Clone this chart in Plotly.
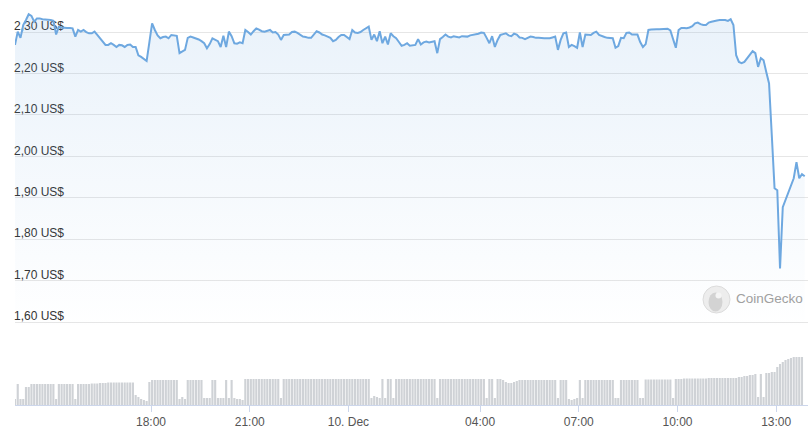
import plotly.graph_objects as go
import pandas as pd

START = "2024-12-09 13:52"

# price (US$) every 5 minutes
price_values = [
    2.269, 2.301, 2.286, 2.317, 2.329, 2.343, 2.339, 2.325, 2.333, 2.333, 2.331, 2.331,
    2.330, 2.329, 2.327, 2.294, 2.313, 2.311, 2.310, 2.310, 2.310, 2.309, 2.289, 2.305,
    2.301, 2.305, 2.300, 2.297, 2.297, 2.301, 2.293, 2.285, 2.278, 2.269, 2.269, 2.273,
    2.269, 2.264, 2.269, 2.268, 2.264, 2.269, 2.270, 2.264, 2.264, 2.244, 2.240, 2.236,
    2.230, 2.275, 2.321, 2.305, 2.292, 2.285, 2.288, 2.289, 2.285, 2.293, 2.292, 2.291,
    2.249, 2.254, 2.257, 2.286, 2.289, 2.287, 2.285, 2.282, 2.278, 2.273, 2.261, 2.271,
    2.285, 2.282, 2.278, 2.264, 2.291, 2.264, 2.301, 2.290, 2.273, 2.272, 2.275, 2.273,
    2.305, 2.300, 2.294, 2.302, 2.309, 2.306, 2.302, 2.301, 2.304, 2.305, 2.299, 2.300,
    2.294, 2.281, 2.293, 2.293, 2.294, 2.300, 2.301, 2.298, 2.294, 2.289, 2.288, 2.286,
    2.286, 2.293, 2.302, 2.299, 2.294, 2.292, 2.289, 2.286, 2.278, 2.281, 2.288, 2.293,
    2.293, 2.288, 2.283, 2.305, 2.299, 2.298, 2.300, 2.305, 2.310, 2.313, 2.281, 2.294,
    2.278, 2.302, 2.273, 2.289, 2.270, 2.297, 2.290, 2.285, 2.276, 2.267, 2.269, 2.273,
    2.267, 2.268, 2.269, 2.283, 2.270, 2.275, 2.277, 2.275, 2.276, 2.278, 2.249, 2.283,
    2.288, 2.294, 2.289, 2.287, 2.290, 2.289, 2.287, 2.290, 2.290, 2.289, 2.292, 2.293,
    2.294, 2.296, 2.299, 2.298, 2.286, 2.273, 2.290, 2.264, 2.281, 2.293, 2.295, 2.297,
    2.292, 2.290, 2.296, 2.294, 2.287, 2.286, 2.283, 2.287, 2.289, 2.288, 2.286, 2.286,
    2.285, 2.285, 2.285, 2.285, 2.287, 2.289, 2.257, 2.281, 2.297, 2.299, 2.264, 2.269,
    2.266, 2.262, 2.299, 2.264, 2.294, 2.294, 2.293, 2.298, 2.301, 2.293, 2.290, 2.288,
    2.286, 2.285, 2.285, 2.262, 2.266, 2.286, 2.285, 2.298, 2.299, 2.294, 2.294, 2.294,
    2.276, 2.264, 2.271, 2.305, 2.306, 2.307, 2.307, 2.307, 2.307, 2.308, 2.308, 2.304,
    2.281, 2.262, 2.305, 2.310, 2.310, 2.309, 2.311, 2.314, 2.321, 2.323, 2.319, 2.317,
    2.317, 2.323, 2.325, 2.327, 2.328, 2.329, 2.329, 2.329, 2.327, 2.331, 2.317, 2.244,
    2.228, 2.225, 2.228, 2.237, 2.243, 2.254, 2.249, 2.216, 2.237, 2.232, 2.203, 2.176,
    2.051, 1.923, 1.918, 1.729, 1.877, 1.894, 1.914, 1.928, 1.947, 1.986, 1.947, 1.957, 1.952,
]

# trading volume per 5-minute bar (relative units)
volume_values = [
    6, 21, 6, 6, 18, 18, 21, 21, 21, 21, 21, 21,
    21, 21, 21, 6, 21, 21, 21, 21, 21, 21, 6, 21,
    21, 21, 21, 21, 21.5, 21.5, 21.5, 22, 22, 22, 22.5, 22.5,
    22.5, 22.5, 22.5, 22.5, 22.5, 22.5, 22.5, 22.5, 10, 8, 6, 5,
    4, 23, 25, 25, 25, 25, 25, 25, 25, 25, 25, 25,
    6, 8, 6, 25, 25, 25, 25, 25, 25, 7, 7, 7,
    25, 25, 7, 7, 7, 25, 7, 25, 7, 6, 6, 5,
    26, 26, 26, 26, 26, 26, 26, 26, 26, 26, 26, 26,
    26, 7, 26, 26, 26, 26, 26, 26, 26, 26, 26, 26,
    26, 26, 26, 26, 26, 26, 26, 26, 26, 26, 26, 26,
    26, 26, 26, 26, 26, 26, 26, 26, 26, 26, 7, 9,
    8, 7, 26, 7, 26, 26, 7, 26, 26, 26, 26, 26,
    26, 26, 26, 26, 26, 26, 26, 26, 26, 26, 7, 26,
    26, 26, 26, 26, 26, 26, 26, 26, 26, 26, 26, 26,
    26, 26, 26, 26, 7, 26, 26, 7, 26, 26, 25, 23,
    22, 22, 23, 24, 25, 25, 25, 25, 25, 25, 25, 25,
    25, 25, 25, 25, 25, 25, 7, 25, 25, 25, 6, 5,
    6, 7, 25, 7, 25, 25, 25, 25, 25, 25, 25, 25,
    25, 25, 25, 7, 7, 25, 25, 25, 25, 25, 25, 25,
    7, 7, 25.5, 25.5, 25.5, 25.5, 25.5, 25.5, 25.5, 25.5, 25.5, 25.5,
    7, 26, 26, 26, 26.5, 26.5, 26.5, 26.5, 26.5, 26.5, 26.5, 26.5,
    26.5, 27, 27, 27, 27, 27, 27, 27, 27, 27, 27, 27,
    28, 28, 29, 29, 30, 30, 31, 8, 31, 8, 32, 32,
    33, 33, 38, 41, 43, 45, 46, 47, 48, 48, 48, 48,
]

x_tick_times = ["2024-12-09 18:00", "2024-12-09 21:00", "2024-12-10 00:00",
                "2024-12-10 04:00", "2024-12-10 07:00", "2024-12-10 10:00",
                "2024-12-10 13:00"]
x_tick_labels = ["18:00", "21:00", "10. Dec", "04:00", "07:00", "10:00", "13:00"]

y_tick_values = [1.6, 1.7, 1.8, 1.9, 2.0, 2.1, 2.2, 2.3]
y_tick_labels = ["1,60 US$", "1,70 US$", "1,80 US$", "1,90 US$",
                 "2,00 US$", "2,10 US$", "2,20 US$", "2,30 US$"]

price_times = pd.date_range(START, periods=len(price_values), freq="5min")
volume_times = pd.date_range(START, periods=len(volume_values), freq="5min")

W, H = 811, 430
LINE = "#6ea8e0"

fig = go.Figure()
fig.add_trace(go.Scatter(
    x=price_times, y=price_values, mode="lines",
    line=dict(color=LINE, width=2),
    fill="tozeroy",
    fillgradient=dict(type="vertical", start=1.58, stop=2.35,
                      colorscale=[[0, "rgba(110,168,224,0.0)"],
                                  [1, "rgba(110,168,224,0.15)"]]),
    xaxis="x", yaxis="y", hoverinfo="skip",
))
fig.add_trace(go.Bar(
    x=volume_times, y=volume_values, marker=dict(color="#cfd2d6", line=dict(width=0)),
    xaxis="x", yaxis="y2", hoverinfo="skip",
))

x_end = pd.Timestamp(START) + pd.Timedelta(hours=24, minutes=6)

fig.update_layout(
    width=W, height=H,
    margin=dict(l=0, r=0, t=0, b=0),
    paper_bgcolor="white", plot_bgcolor="white",
    showlegend=False, bargap=0.22,
    font=dict(family="Liberation Sans, Arial, sans-serif", size=12, color="#333333"),
    xaxis=dict(
        domain=[15 / W, 808 / W], range=[pd.Timestamp(START), x_end],
        anchor="y2", showgrid=False, zeroline=False,
        showline=True, linecolor="#ccd6eb", linewidth=1,
        ticks="outside", ticklen=6, tickcolor="#ccd6eb",
        tickvals=x_tick_times, ticktext=x_tick_labels,
        tickfont=dict(size=12, color="#555555"),
    ),
    yaxis=dict(
        domain=[1 - 330.3 / H, 1 - 7.2 / H], range=[1.58, 2.36],
        tickvals=y_tick_values, ticktext=y_tick_labels,
        ticklabelposition="inside", ticklabelshift=-6, ticklabelstandoff=-4,
        ticks="", layer="below traces",
        tickfont=dict(size=12, color="#333333"),
        showgrid=True, gridcolor="#e6e6e6", gridwidth=1, zeroline=False,
    ),
    yaxis2=dict(
        domain=[1 - 405 / H, 1 - 355 / H], range=[0, 50],
        showgrid=False, showticklabels=False, zeroline=False,
    ),
)

# CoinGecko watermark
cx, cy, r = 716.5, 299.5, 13.5
fig.add_shape(type="circle", xref="paper", yref="paper",
              x0=(cx - r) / W, x1=(cx + r) / W, y0=1 - (cy + r) / H, y1=1 - (cy - r) / H,
              fillcolor="#ededed", line=dict(color="#dcdcdc", width=1))
fig.add_shape(type="circle", xref="paper", yref="paper",
              x0=(cx - 8) / W, x1=(cx + 6) / W, y0=1 - (cy + 12) / H, y1=1 - (cy - 7) / H,
              fillcolor="#d3d3d3", line=dict(width=0))
fig.add_shape(type="circle", xref="paper", yref="paper",
              x0=(cx - 1) / W, x1=(cx + 5) / W, y0=1 - (cy - 1) / H, y1=1 - (cy - 7) / H,
              fillcolor="#f5f5f5", line=dict(width=0))
fig.add_annotation(text="CoinGecko", xref="paper", yref="paper",
                   x=734 / W, y=1 - 298 / H, xanchor="left", yanchor="middle",
                   showarrow=False, font=dict(size=13.5, color="#a0a0a0"))

fig.write_html("out.html", config={"displayModeBar": False},
               post_script="document.body.style.margin='0';document.body.style.overflow='hidden';")
